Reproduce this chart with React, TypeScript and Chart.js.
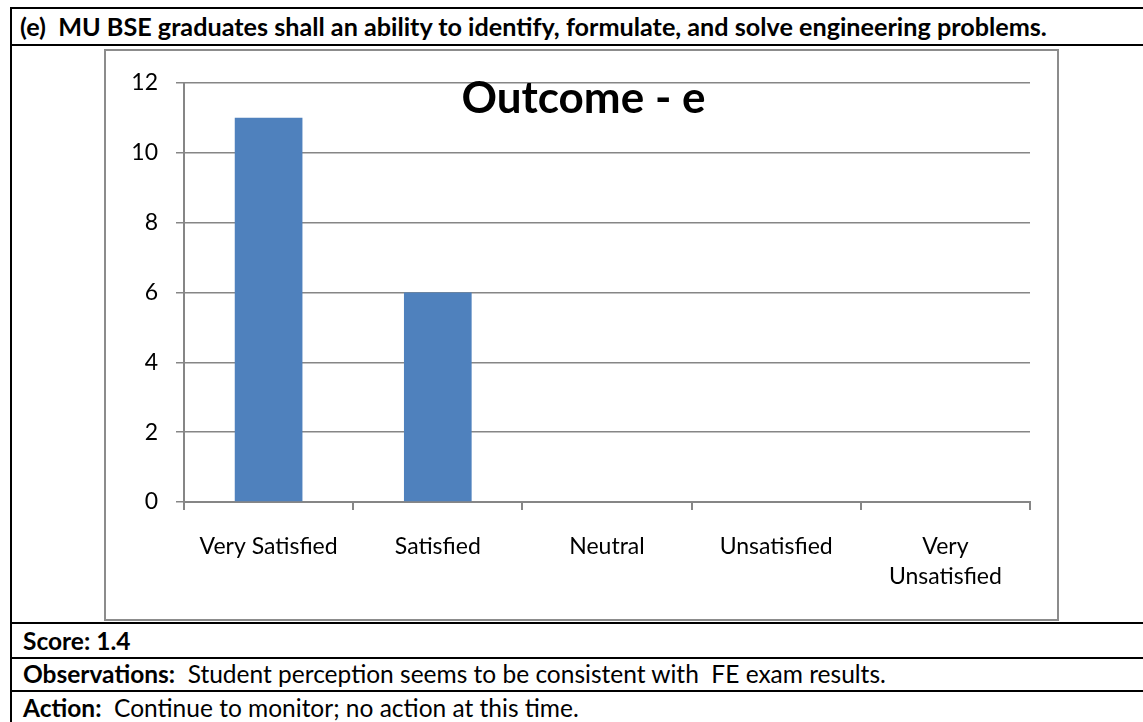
import React, { useEffect, useRef } from "react";
import { Chart, registerables } from "chart.js";

Chart.register(...registerables);

// ---- data ----
const categoryLabels: (string | string[])[] = [
  "Very Satisfied",
  "Satisfied",
  "Neutral",
  "Unsatisfied",
  ["Very", "Unsatisfied"],
];
const responseCounts = [11, 6, 0, 0, 0];
const yTickMin = 0;
const yTickMax = 12;
const yTickStep = 2;
const chartTitle = "Outcome - e";

const headerText = "(e)  MU BSE graduates shall an ability to identify, formulate, and solve engineering problems.";
const scoreLabel = "Score: 1.4";
const observationsLabel = "Observations:";
const observationsText = "  Student perception seems to be consistent with  FE exam results.";
const actionLabel = "Action:";
const actionText = "  Continue to monitor; no action at this time.";

const FONT = "Lato, 'Open Sans', sans-serif";
const GRID = "#868686";

const floatingTitle = {
  id: "floatingTitle",
  afterDraw(chart: any) {
    const ctx = chart.ctx;
    ctx.save();
    ctx.font = `bold 44px ${FONT}`;
    ctx.fillStyle = "#000";
    ctx.textAlign = "center";
    ctx.textBaseline = "alphabetic";
    ctx.fillText(chartTitle, chart.width / 2 + 2, 62);
    ctx.restore();
  },
};

function BarChart() {
  const ref = useRef<HTMLCanvasElement | null>(null);
  useEffect(() => {
    if (!ref.current) return;
    const chart = new Chart(ref.current, {
      type: "bar",
      data: {
        labels: categoryLabels as any,
        datasets: [
          {
            data: responseCounts,
            backgroundColor: "#4F81BD",
            borderWidth: 0,
            barPercentage: 0.4,
            categoryPercentage: 1,
          },
        ],
      },
      options: {
        animation: false,
        responsive: true,
        maintainAspectRatio: false,
        layout: { padding: { top: 27, right: 27, bottom: 0, left: 0 } },
        plugins: {
          legend: { display: false },
          tooltip: { enabled: false },
          title: { display: false },
        },
        scales: {
          x: {
            grid: {
              drawOnChartArea: false,
              drawTicks: true,
              tickLength: 8,
              color: GRID,
              lineWidth: 2,
              offset: true,
            },
            border: { color: GRID, width: 2 },
            ticks: {
              color: "#000",
              font: { family: FONT, size: 23, lineHeight: 1.3 },
              padding: 22,
              maxRotation: 0,
              autoSkip: false,
            },
            afterFit(scale: any) {
              scale.height = 117;
            },
          },
          y: {
            min: yTickMin,
            max: yTickMax,
            ticks: {
              stepSize: yTickStep,
              color: "#000",
              font: { family: FONT, size: 23 },
              padding: 18,
            },
            grid: { color: GRID, lineWidth: 1.5, tickLength: 8 },
            border: { color: GRID, width: 2 },
            afterFit(scale: any) {
              scale.width = 78;
            },
          },
        },
      },
      plugins: [floatingTitle],
    });
    return () => chart.destroy();
  }, []);
  return <canvas ref={ref} />;
}

const hLine = (top: number): React.CSSProperties => ({
  position: "absolute",
  left: 10,
  right: 0,
  top,
  height: 2,
  background: "#000",
});

const rowText = (centerY: number): React.CSSProperties => ({
  position: "absolute",
  left: 23,
  top: centerY - 16,
  height: 32,
  lineHeight: "32px",
  fontFamily: FONT,
  fontSize: 24.5,
  color: "#000",
  whiteSpace: "pre",
});

export default function App() {
  return (
    <div
      style={{
        position: "fixed",
        left: 0,
        top: 0,
        width: 1143,
        height: 722,
        overflow: "hidden",
        background: "#fff",
      }}
    >
      {/* table borders */}
      <div style={hLine(7)} />
      <div style={hLine(44)} />
      <div style={hLine(622)} />
      <div style={hLine(657)} />
      <div style={hLine(690)} />
      <div style={{ position: "absolute", left: 10, top: 7, width: 2, bottom: 0, background: "#000" }} />

      <div style={{ ...rowText(26), fontWeight: 700, fontSize: 25.2, left: 20 }}>{headerText}</div>
      <div style={{ ...rowText(641), fontWeight: 700 }}>{scoreLabel}</div>
      <div style={rowText(674)}>
        <b>{observationsLabel}</b>
        {observationsText}
      </div>
      <div style={rowText(708)}>
        <b>{actionLabel}</b>
        {actionText}
      </div>

      {/* chart box */}
      <div
        style={{
          position: "absolute",
          left: 104,
          top: 49,
          width: 951,
          height: 568,
          border: "2px solid #8c8c8c",
          background: "#fff",
        }}
      >
        <div style={{ position: "relative", width: 951, height: 568 }}>
          <BarChart />
        </div>
      </div>
    </div>
  );
}
